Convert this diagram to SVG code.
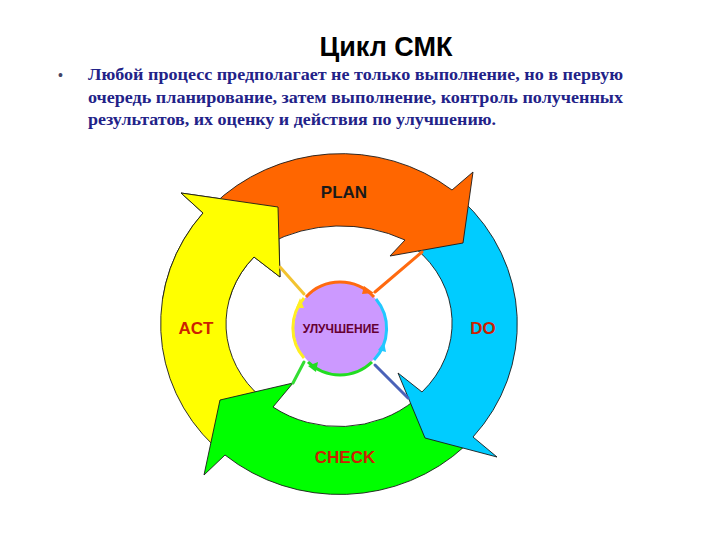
<svg xmlns="http://www.w3.org/2000/svg" xmlns:xlink="http://www.w3.org/1999/xlink" width="720" height="540" viewBox="0 0 720 540">
<style>
.arw{stroke:#1a1a1a;stroke-width:0.9;stroke-linejoin:miter}
.lbl{font-family:"Liberation Sans",Arial,sans-serif;font-weight:bold;text-anchor:middle}
.red{fill:#CC2200;font-size:17px}
.con{fill:none;stroke-width:3;stroke-linecap:round}
.body{font-family:"Liberation Serif","Times New Roman",serif;font-weight:bold;font-size:16.5px;fill:#222288}
</style>
<defs>
<path id="yellowShape" d="M262,398 L214,446 A180 172 0 0 1 203,213 L181,193 L278,207 L280,277 L254,257 A112 101 0 0 0 262,398 Z"/>
<clipPath id="topClip"><rect x="0" y="0" width="720" height="300"/></clipPath>
</defs>
<rect width="720" height="540" fill="#ffffff"/>
<g id="title">
<text x="386" y="56" class="lbl" style="font-size:27px;fill:#000">Цикл СМК</text>
</g>
<g id="text">
<text x="58" y="80" style="font-family:'Liberation Sans',Arial,sans-serif;font-size:14px;fill:#444466">•</text>
<text x="88" y="80" class="body" textLength="535" lengthAdjust="spacingAndGlyphs">Любой процесс предполагает не только выполнение, но в первую</text>
<text x="88" y="103" class="body" textLength="535" lengthAdjust="spacingAndGlyphs">очередь планирование, затем выполнение, контроль полученных</text>
<text x="88" y="125" class="body" textLength="408" lengthAdjust="spacingAndGlyphs">результатов, их оценку и действия по улучшению.</text>
</g>
<g id="act">
<use xlink:href="#yellowShape" class="arw" fill="#FFFF00"/>
</g>
<g id="check">
<path class="arw" fill="#00FF00" d="M465,446 A180 172 0 0 1 225,455 L204,475 L220,400 L293,383 L273,407 A112 101 0 0 0 415,400 Z"/>
</g>
<g id="do">
<path class="arw" fill="#00CCFF" d="M462,200 A180 172 0 0 1 473,437 L497,457 L425,438 L398,373 L422,392 A112 101 0 0 0 415,248 Z"/>
</g>
<g id="plan">
<path class="arw" fill="#FF6600" d="M212,206 A180 172 0 0 1 452,190 L473,172 L463,243 L390,256 L405,240 A155 155 0 0 0 268,244 Z"/>
</g>
<g id="act-head">
<use xlink:href="#yellowShape" class="arw" fill="#FFFF00" clip-path="url(#topClip)"/>
</g>
<g id="connectors">
<line class="con" x1="280" y1="267" x2="304" y2="294" stroke="#F2C330"/>
<line class="con" x1="422" y1="252" x2="375" y2="292" stroke="#FF6A10"/>
<line class="con" x1="293" y1="383" x2="304" y2="362" stroke="#33DD33"/>
<line class="con" x1="375" y1="365" x2="408" y2="398" stroke="#4A62B8"/>
</g>
<g id="center">
<circle cx="340" cy="328" r="46" fill="#CC99FF"/>
<path d="M306,297 A46 46 0 0 1 374,297" fill="none" stroke="#FF6A10" stroke-width="3"/>
<polygon points="364,286 374,293 362,294" fill="#FF6A10"/>
<path d="M376,299 A46 46 0 0 1 374,360" fill="none" stroke="#22C8FF" stroke-width="3"/>
<polygon points="384,342 386,352 378,350" fill="#22C8FF"/>
<path d="M372,362 A46 46 0 0 1 308,362" fill="none" stroke="#22DD22" stroke-width="3"/>
<polygon points="318,362 308,366 316,372" fill="#22DD22"/>
<path d="M304,358 A46 46 0 0 1 304,298" fill="none" stroke="#FFEE22" stroke-width="3"/>
<polygon points="296,308 300,298 304,308" fill="#FFEE22"/>
<text x="341" y="333" class="lbl" style="font-size:12px;fill:#660033">УЛУЧШЕНИЕ</text>
</g>
<g id="labels">
<text x="344" y="198" class="lbl" style="font-size:17px;fill:#1a1a1a">PLAN</text>
<text x="196" y="334" class="lbl red">ACT</text>
<text x="483" y="334" class="lbl red">DO</text>
<text x="345" y="463" class="lbl red">CHECK</text>
</g>
</svg>
